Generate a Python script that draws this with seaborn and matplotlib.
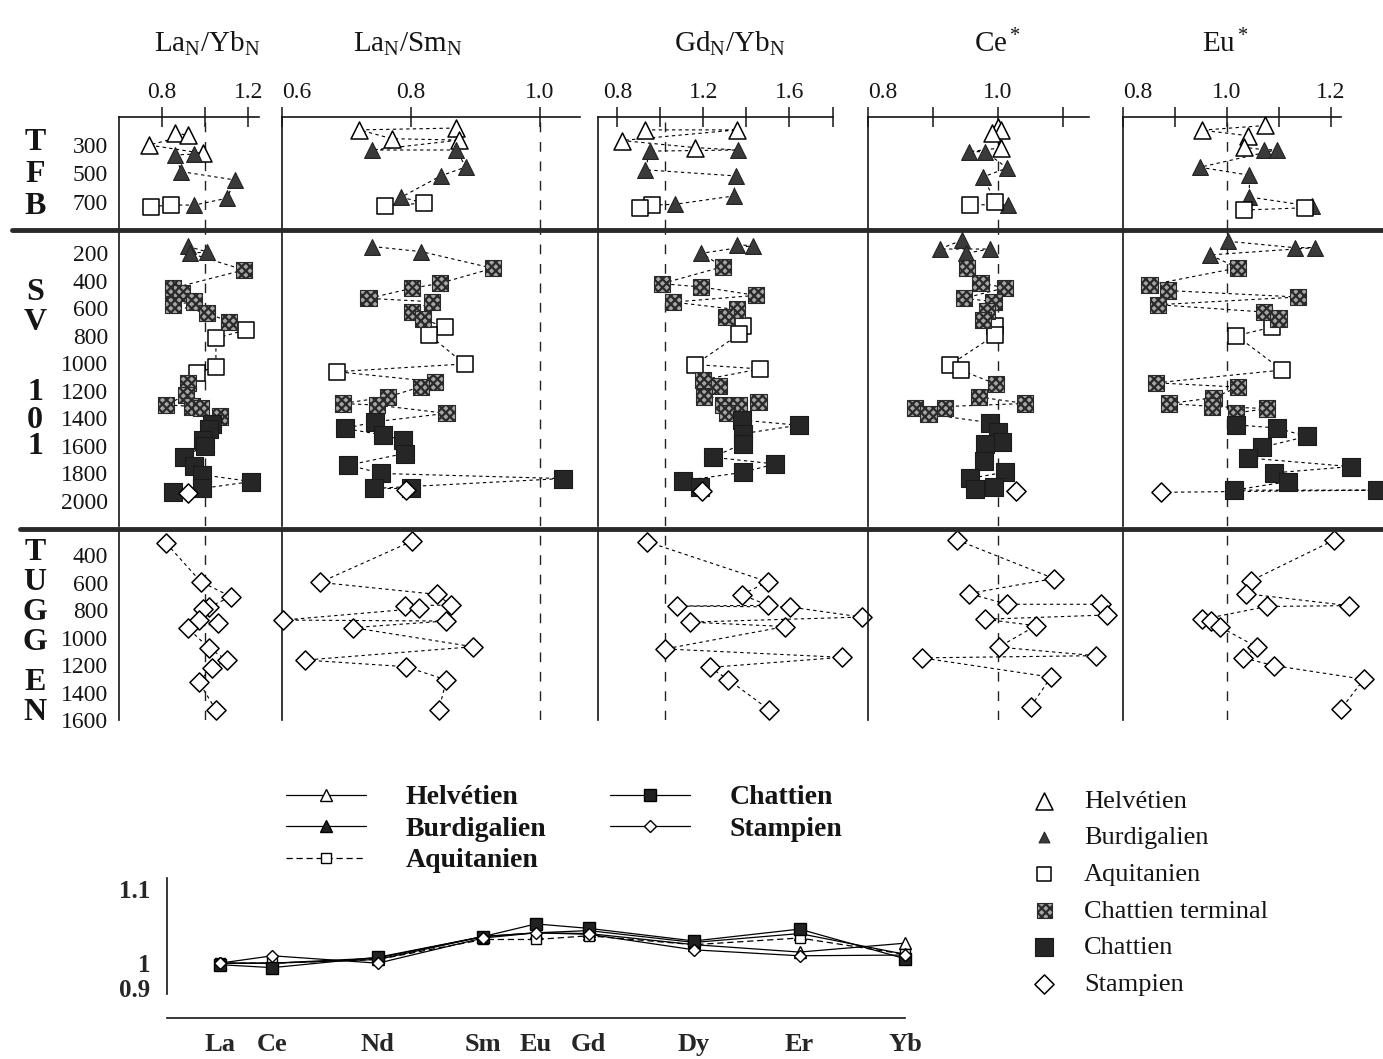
import numpy as np
import pandas as pd
import seaborn as sns
import matplotlib.pyplot as plt
from matplotlib.lines import Line2D

# series codes: H Helvetien, B Burdigalien, A Aquitanien,
# CT Chattien terminal, C Chattien, S Stampien
# every point is (series, ratio, depth in m)

# ---- La_N / Yb_N
layb_tfb = [("H", 0.74, 300), ("H", 0.86, 218), ("H", 0.92, 229), ("H", 0.99, 359),
            ("B", 0.86, 370), ("B", 0.95, 364), ("B", 0.89, 488), ("B", 1.14, 547),
            ("B", 1.10, 676), ("B", 0.95, 724), ("A", 0.75, 735), ("A", 0.84, 724)]
layb_sv = [("B", 0.92, 150), ("B", 0.93, 200), ("B", 1.01, 190),
           ("CT", 1.18, 321), ("CT", 0.85, 454), ("CT", 0.89, 491), ("CT", 0.85, 575),
           ("CT", 0.95, 551), ("CT", 1.01, 636), ("CT", 1.11, 697), ("CT", 0.92, 1145),
           ("CT", 0.91, 1230), ("CT", 0.82, 1302), ("CT", 0.94, 1314), ("CT", 0.98, 1326),
           ("CT", 1.07, 1387),
           ("A", 1.05, 818), ("A", 1.19, 757), ("A", 0.96, 1072), ("A", 1.05, 1024),
           ("C", 1.03, 1440), ("C", 1.02, 1480), ("C", 0.99, 1560), ("C", 1.00, 1600),
           ("C", 0.90, 1680), ("C", 0.95, 1750), ("C", 0.985, 1810), ("C", 1.215, 1860),
           ("C", 0.85, 1935), ("C", 0.985, 1910), ("S", 0.92, 1944)]
layb_tug = [("S", 0.82, 315), ("S", 0.98, 594), ("S", 1.12, 703), ("S", 1.02, 776),
            ("S", 0.99, 795), ("S", 0.97, 873), ("S", 0.92, 933), ("S", 1.06, 897),
            ("S", 1.02, 1079), ("S", 1.10, 1164), ("S", 1.03, 1224), ("S", 0.97, 1321),
            ("S", 1.05, 1527)]

# ---- La_N / Sm_N
lasm_tfb = [("H", 0.72, 193), ("H", 0.77, 255), ("H", 0.87, 180), ("H", 0.875, 265),
            ("B", 0.74, 335), ("B", 0.87, 335), ("B", 0.885, 455), ("B", 0.846, 518),
            ("B", 0.785, 668), ("A", 0.76, 730), ("A", 0.82, 710)]
lasm_sv = [("B", 0.74, 151), ("B", 0.816, 188),
           ("CT", 0.927, 309), ("CT", 0.845, 418), ("CT", 0.801, 455), ("CT", 0.734, 528),
           ("CT", 0.832, 552), ("CT", 0.801, 625), ("CT", 0.819, 680), ("CT", 0.837, 1134),
           ("CT", 0.816, 1170), ("CT", 0.694, 1292), ("CT", 0.765, 1243), ("CT", 0.747, 1304),
           ("CT", 0.855, 1364),
           ("A", 0.852, 734), ("A", 0.828, 794), ("A", 0.883, 1005), ("A", 0.685, 1061),
           ("C", 0.698, 1474), ("C", 0.744, 1425), ("C", 0.757, 1522), ("C", 0.788, 1559),
           ("C", 0.79, 1656), ("C", 0.703, 1740), ("C", 0.754, 1801), ("C", 1.035, 1838),
           ("C", 0.742, 1910), ("C", 0.80, 1910), ("S", 0.793, 1922)]
lasm_tug = [("S", 0.802, 298), ("S", 0.659, 599), ("S", 0.84, 686), ("S", 0.79, 768),
            ("S", 0.813, 788), ("S", 0.862, 764), ("S", 0.602, 873), ("S", 0.71, 928),
            ("S", 0.854, 880), ("S", 0.896, 1067), ("S", 0.636, 1164), ("S", 0.792, 1212),
            ("S", 0.855, 1309), ("S", 0.843, 1527)]

# ---- Gd_N / Yb_N
gdyb_tfb = [("H", 0.82, 268), ("H", 0.93, 193), ("H", 1.355, 193), ("H", 1.16, 318),
            ("B", 0.95, 343), ("B", 1.36, 335), ("B", 0.93, 475), ("B", 1.35, 518),
            ("B", 1.34, 660), ("B", 1.07, 718), ("A", 0.905, 743), ("A", 0.96, 725)]
gdyb_sv = [("B", 1.19, 200), ("B", 1.355, 139), ("B", 1.43, 144),
           ("CT", 1.29, 298), ("CT", 1.006, 421), ("CT", 1.19, 445), ("CT", 1.445, 506),
           ("CT", 1.06, 555), ("CT", 1.355, 609), ("CT", 1.305, 666), ("CT", 1.20, 1119),
           ("CT", 1.274, 1168), ("CT", 1.203, 1242), ("CT", 1.29, 1303), ("CT", 1.367, 1303),
           ("CT", 1.456, 1283), ("CT", 1.308, 1359),
           ("A", 1.386, 727), ("A", 1.367, 788), ("A", 1.161, 1009), ("A", 1.464, 1041),
           ("C", 1.378, 1413), ("C", 1.642, 1450), ("C", 1.386, 1511), ("C", 1.383, 1585),
           ("C", 1.243, 1683), ("C", 1.533, 1732), ("C", 1.383, 1793), ("C", 1.107, 1854),
           ("C", 1.184, 1903), ("S", 1.192, 1928)]
gdyb_tug = [("S", 0.936, 302), ("S", 1.50, 595), ("S", 1.378, 688), ("S", 1.076, 771),
            ("S", 1.50, 766), ("S", 1.603, 778), ("S", 1.936, 851), ("S", 1.138, 888),
            ("S", 1.58, 920), ("S", 1.022, 1083), ("S", 1.843, 1144), ("S", 1.231, 1217),
            ("S", 1.316, 1307), ("S", 1.507, 1527)]

# ---- Ce*
ce_tfb = [("H", 1.0, 170), ("H", 0.99, 215), ("H", 1.005, 195), ("H", 1.005, 320),
          ("B", 0.955, 347), ("B", 0.98, 347), ("B", 1.014, 462), ("B", 0.977, 525),
          ("B", 1.016, 722), ("A", 0.957, 722), ("A", 0.996, 703)]
ce_sv = [("B", 0.91, 169), ("B", 0.944, 106), ("B", 0.951, 200), ("B", 0.987, 169),
         ("CT", 0.952, 309), ("CT", 0.973, 418), ("CT", 0.948, 527), ("CT", 1.011, 450),
         ("CT", 0.993, 552), ("CT", 0.983, 621), ("CT", 0.977, 683), ("CT", 0.997, 1151),
         ("CT", 0.97, 1245), ("CT", 0.872, 1323), ("CT", 0.893, 1370), ("CT", 0.919, 1323),
         ("CT", 1.042, 1292),
         ("A", 0.996, 730), ("A", 0.996, 793), ("A", 0.926, 1011), ("A", 0.943, 1051),
         ("C", 0.988, 1432), ("C", 1.0, 1500), ("C", 1.006, 1572), ("C", 0.98, 1588),
         ("C", 0.978, 1713), ("C", 1.011, 1791), ("C", 0.957, 1837), ("C", 0.965, 1915),
         ("C", 0.993, 1900), ("S", 1.027, 1931)]
ce_tug = [("S", 0.937, 291), ("S", 1.086, 571), ("S", 0.955, 680), ("S", 1.014, 758),
          ("S", 1.158, 758), ("S", 1.168, 836), ("S", 0.98, 867), ("S", 1.058, 914),
          ("S", 1.001, 1070), ("S", 1.15, 1132), ("S", 0.883, 1148), ("S", 1.081, 1288),
          ("S", 1.05, 1506)]

# ---- Eu*
eu_tfb = [("H", 0.952, 195), ("H", 1.074, 162), ("H", 1.04, 234), ("H", 1.033, 316),
          ("B", 1.071, 333), ("B", 1.096, 333), ("B", 0.948, 457), ("B", 1.043, 513),
          ("B", 1.043, 667), ("B", 1.164, 733), ("A", 1.033, 759), ("A", 1.15, 743)]
eu_sv = [("B", 1.002, 113), ("B", 0.967, 212), ("B", 1.13, 159), ("B", 1.169, 159),
         ("CT", 1.021, 306), ("CT", 0.851, 431), ("CT", 0.886, 471), ("CT", 0.867, 574),
         ("CT", 1.137, 518), ("CT", 1.071, 627), ("CT", 1.099, 674), ("CT", 0.864, 1142),
         ("CT", 1.021, 1173), ("CT", 0.889, 1292), ("CT", 0.974, 1251), ("CT", 0.971, 1314),
         ("CT", 1.018, 1361), ("CT", 1.077, 1329),
         ("A", 1.087, 737), ("A", 1.018, 799), ("A", 1.106, 1049),
         ("C", 1.018, 1448), ("C", 1.096, 1470), ("C", 1.153, 1532), ("C", 1.068, 1610),
         ("C", 1.04, 1688), ("C", 1.238, 1751), ("C", 1.09, 1797), ("C", 1.118, 1860),
         ("C", 1.014, 1922), ("C", 1.288, 1922), ("S", 0.873, 1938)]
eu_tug = [("S", 1.206, 291), ("S", 1.046, 587), ("S", 1.036, 681), ("S", 1.077, 774),
          ("S", 1.235, 768), ("S", 0.952, 868), ("S", 0.969, 883), ("S", 0.987, 924),
          ("S", 1.058, 1070), ("S", 1.031, 1148), ("S", 1.09, 1204), ("S", 1.263, 1304),
          ("S", 1.219, 1522)]

# ---- normalised REE patterns (bottom chart)
ree = ["La", "Ce", "Nd", "Sm", "Eu", "Gd", "Dy", "Er", "Yb"]
ree_atomic = [57, 58, 60, 62, 63, 64, 66, 68, 70]
ree_helvetien = [1.0, 1.0, 1.005, 1.036, 1.041, 1.040, 1.025, 1.015, 1.027]
ree_burdigalien = [1.0, 1.0, 1.007, 1.036, 1.041, 1.044, 1.028, 1.040, 1.012]
ree_aquitanien = [1.0, 1.0, 1.005, 1.032, 1.032, 1.037, 1.025, 1.034, 1.012]
ree_chattien = [0.998, 0.994, 1.008, 1.036, 1.053, 1.047, 1.030, 1.046, 1.006]
ree_stampien = [1.0, 1.010, 1.0, 1.034, 1.041, 1.039, 1.018, 1.010, 1.011]

titles = [r"$\mathrm{La_N/Yb_N}$", r"$\mathrm{La_N/Sm_N}$", r"$\mathrm{Gd_N/Yb_N}$",
          r"$\mathrm{Ce^*}$", r"$\mathrm{Eu^*}$"]
names = {"H": "Helvétien", "B": "Burdigalien", "A": "Aquitanien",
         "CT": "Chattien terminal", "C": "Chattien", "S": "Stampien"}

sns.set_style("white")
plt.rcParams["font.family"] = ["Liberation Serif", "DejaVu Serif"]
plt.rcParams["mathtext.fontset"] = "custom"
plt.rcParams["mathtext.rm"] = "Liberation Serif"
plt.rcParams["mathtext.it"] = "Liberation Serif:italic"
plt.rcParams["mathtext.bf"] = "Liberation Serif:bold"
plt.rcParams["hatch.linewidth"] = 1.6
plt.rcParams["text.color"] = "#151515"

W, H = 1383, 1059
fig = plt.figure(figsize=(W / 100, H / 100), dpi=100)


def frac(x0, y0, x1, y1):
    # pixel box -> figure fraction
    return [x0 / W, 1 - y1 / H, (x1 - x0) / W, (y1 - y0) / H]


MARK = {
    "H": dict(marker="^", s=150, color="white", edgecolor="black", linewidth=1.1),
    "B": dict(marker="^", s=130, color="#3a3a3a", edgecolor="#222222", linewidth=0.8),
    "A": dict(marker="s", s=125, color="white", edgecolor="black", linewidth=1.1),
    "CT": dict(marker="s", s=135, color="#a5a5a5", edgecolor="#2a2a2a", linewidth=0.8, hatch="xxxx"),
    "C": dict(marker="s", s=155, color="#262626", edgecolor="#1a1a1a", linewidth=0.8),
    "S": dict(marker="D", s=95, color="white", edgecolor="black", linewidth=1.1),
}

COLS = [
    dict(x0=119, x1=259, xlim=(0.6, 1.25), ticks=[0.8, 1.0, 1.2], labels=["0.8", "", "1.2"],
         spine=(0.6, 1.25), ref=1.0),
    dict(x0=282, x1=580, xlim=(0.6, 1.062), ticks=[0.6, 0.8, 1.0], labels=["0.6", "0.8", "1.0"],
         spine=(0.6, 1.062), ref=1.0),
    dict(x0=598, x1=862, xlim=(0.71, 1.937), ticks=[0.8, 1.0, 1.2, 1.4, 1.6, 1.8],
         labels=["0.8", "", "1.2", "", "1.6", ""], spine=(0.71, 1.8), ref=1.02),
    dict(x0=868, x1=1108, xlim=(0.8, 1.169), ticks=[0.8, 0.9, 1.0, 1.1],
         labels=["0.8", "", "1.0", ""], spine=(0.8, 1.14), ref=1.0),
    dict(x0=1123, x1=1383, xlim=(0.8, 1.3), ticks=[0.8, 0.9, 1.0, 1.1, 1.2],
         labels=["0.8", "", "1.0", "", "1.2"], spine=(0.8, 1.22), ref=1.0),
]
ROWS = [
    dict(y0=117, y1=229, ylim=(893, 102), ticks=[300, 500, 700]),
    dict(y0=231, y1=526, ylim=(2183, 38), ticks=list(range(200, 2001, 200))),
    dict(y0=531, y1=720, ylim=(1600, 225), ticks=list(range(400, 1601, 200))),
]
DATA = [[layb_tfb, layb_sv, layb_tug], [lasm_tfb, lasm_sv, lasm_tug],
        [gdyb_tfb, gdyb_sv, gdyb_tug], [ce_tfb, ce_sv, ce_tug], [eu_tfb, eu_sv, eu_tug]]


def draw_section(ax, pts):
    df = pd.DataFrame(pts, columns=["serie", "val", "depth"])
    df = df.sort_values("depth", kind="stable")
    sns.lineplot(data=df, x="val", y="depth", sort=False, estimator=None, color="black",
                 lw=0.8, linestyle=(0, (3, 3)), ax=ax, zorder=2)
    for code, st in MARK.items():
        sub = df[df.serie == code]
        if len(sub):
            sns.scatterplot(data=sub, x="val", y="depth", ax=ax, zorder=4, clip_on=False,
                            legend=False, **st)


for ci, col in enumerate(COLS):
    for ri, row in enumerate(ROWS):
        ax = fig.add_axes(frac(col["x0"], row["y0"], col["x1"], row["y1"]))
        ax.set_facecolor("none")
        draw_section(ax, DATA[ci][ri])
        ax.axvline(col["ref"], color="#222222", lw=1.0, ls=(0, (7, 7)), zorder=1)
        ax.set_xlim(col["xlim"])
        ax.set_ylim(row["ylim"])
        ax.set_xlabel("")
        ax.set_ylabel("")
        ax.spines["right"].set_visible(False)
        ax.spines["bottom"].set_visible(False)
        ax.spines["left"].set_linewidth(1.2)
        ax.spines["left"].set_color("#151515")
        ax.set_yticks(row["ticks"])
        ax.tick_params(axis="y", direction="inout", length=14, width=1.1, labelsize=17,
                       pad=1, labelleft=(ci == 0), colors="#151515")
        if ri == 0:
            ax.spines["top"].set_bounds(*col["spine"])
            ax.spines["top"].set_linewidth(1.2)
            ax.spines["top"].set_color("#151515")
            ax.xaxis.tick_top()
            ax.set_xticks(col["ticks"], col["labels"])
            ax.tick_params(axis="x", direction="inout", length=14, width=1.1, labelsize=17,
                           pad=3, colors="#151515")
            # the label sitting on the depth axis is printed just right of it
            if ci in (1, 3, 4):
                ax.get_xticklabels()[0].set_horizontalalignment("left")
        else:
            ax.spines["top"].set_visible(False)
            ax.set_xticks([])

# column titles
for t, x in zip(titles, [207, 408, 730, 997, 1225]):
    fig.text(x / W, 1 - 52 / H, t, ha="center", va="baseline", fontsize=21)

# thick separators between the boreholes
fig.add_artist(Line2D([12 / W, 1], [1 - 230 / H] * 2, lw=3.5, color="#2a2a2a"))
fig.add_artist(Line2D([20 / W, 1], [1 - 528.5 / H] * 2, lw=3.5, color="#2a2a2a"))

# borehole names written vertically
for word, ys in [("TFB", [142, 174, 207]), ("SV101", [292, 323, 393, 420, 447]),
                 ("TUGGEN", [553, 582, 612, 643, 683, 712])]:
    for ch, y in zip(word, ys):
        fig.text(35 / W, 1 - y / H, ch, ha="center", va="center", fontsize=23,
                 fontweight="bold")

# bottom chart: REE patterns
axr = fig.add_axes(frac(167, 878, 905, 1018))
axr.set_facecolor("none")
lines = [
    (ree_helvetien, dict(marker="^", ms=8, mfc="white"), "-"),
    (ree_burdigalien, dict(marker="^", ms=8, mfc="#222222"), "-"),
    (ree_aquitanien, dict(marker="s", ms=7, mfc="white"), (0, (5, 3))),
    (ree_chattien, dict(marker="s", ms=8, mfc="#222222"), "-"),
    (ree_stampien, dict(marker="D", ms=6.5, mfc="white"), "-"),
]
for vals, mk, ls in lines:
    sns.lineplot(x=ree_atomic, y=vals, ax=axr, color="black", lw=0.9, linestyle=ls,
                 mec="black", mew=1.0, clip_on=False, **mk)
axr.set_xlim(56.0, 70.0)
axr.set_ylim(0.926, 1.115)
axr.spines["right"].set_visible(False)
axr.spines["top"].set_visible(False)
axr.spines["left"].set_bounds(0.959, 1.115)
for s in ["left", "bottom"]:
    axr.spines[s].set_linewidth(1.2)
    axr.spines[s].set_color("#151515")
axr.set_xticks(ree_atomic, ree)
axr.set_yticks([0.966, 1.0, 1.1], ["0.9", "1", "1.1"])
axr.tick_params(axis="x", direction="in", length=10, width=1.0, labelsize=19, pad=11)
axr.tick_params(axis="y", direction="in", length=6, width=1.0, labelsize=18, pad=12)
for lbl in axr.get_xticklabels() + axr.get_yticklabels():
    lbl.set_fontweight("bold")

# legend of the REE chart
h1 = [Line2D([], [], color="black", lw=0.9, ls=ls, mec="black", **mk) for _, mk, ls in lines]
fig.legend(h1, [names[k] for k in ["H", "B", "A", "C", "S"]], ncol=2, loc="upper left",
           bbox_to_anchor=(272 / W, 1 - 771 / H), frameon=False, borderpad=0,
           handlelength=2.9, handletextpad=1.4, columnspacing=2.3, labelspacing=0.22,
           prop=dict(family="Liberation Serif", weight="bold", size=20))

# legend of the symbols
h2 = [axr.scatter([], [], **{**MARK[k], "s": sz})
      for k, sz in zip(["H", "B", "A", "CT", "C", "S"], [150, 60, 110, 110, 150, 95])]
fig.legend(h2, [names[k] for k in ["H", "B", "A", "CT", "C", "S"]], loc="upper left",
           bbox_to_anchor=(1018 / W, 1 - 776 / H), frameon=False, borderpad=0,
           scatterpoints=1, handlelength=1.0, handletextpad=1.0, labelspacing=0.5,
           prop=dict(family="Liberation Serif", size=19))

fig.savefig("out.png", dpi=100)
